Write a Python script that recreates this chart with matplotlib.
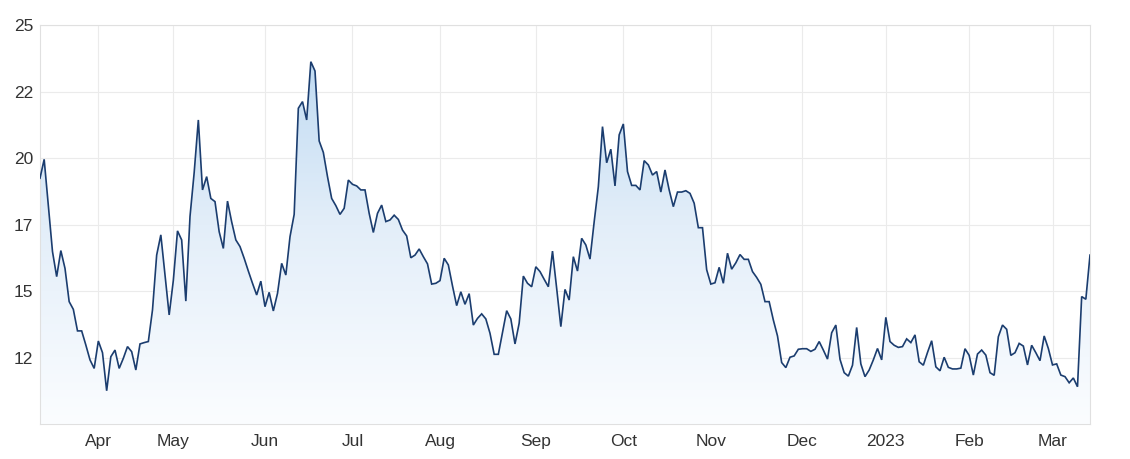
import numpy as np
import matplotlib
matplotlib.use('Agg')
import matplotlib.pyplot as plt
from matplotlib.patches import PathPatch
from matplotlib.colors import LinearSegmentedColormap

# ── data (one value per trading day, mid-Mar 2022 → mid-Mar 2023) ──────────
close = [
    19.24, 19.95, 18.2, 16.48, 15.54, 16.52, 15.85, 14.6, 14.31, 13.5,
    13.5, 12.97, 12.41, 12.09,                                           # Mar
    13.12, 12.68, 11.25, 12.53, 12.78, 12.09, 12.47, 12.91, 12.72, 12.03,
    13.01, 13.06, 13.1, 14.29, 16.35, 17.11, 15.6, 14.1,                 # Apr
    15.4, 17.26, 16.92, 14.62, 17.8, 19.45, 21.43, 18.8, 19.3, 18.48,
    18.36, 17.23, 16.6, 18.38, 17.6, 16.92, 16.67, 16.23, 15.75, 15.29,
    14.85, 15.37,                                                        # May
    14.41, 14.95, 14.25, 14.91, 16.04, 15.6, 17.04, 17.88, 21.87, 22.12,
    21.43, 23.62, 23.27, 20.64, 20.21, 19.3, 18.48, 18.21, 17.88, 18.11,
    19.17,                                                               # Jun
    19.01, 18.95, 18.8, 18.8, 17.92, 17.2, 17.92, 18.23, 17.61, 17.67,
    17.85, 17.69, 17.29, 17.07, 16.25, 16.35, 16.58, 16.29, 16.02, 15.26,
    15.29,                                                               # Jul
    15.39, 16.23, 15.98, 15.19, 14.45, 14.97, 14.5, 14.9, 13.72, 13.97,
    14.14, 13.95, 13.41, 12.62, 12.62, 13.43, 14.26, 13.95, 13.01, 13.79,
    15.56, 15.29, 15.16,                                                 # Aug
    15.91, 15.73, 15.44, 15.16, 16.5, 15.1, 13.66, 15.06, 14.66, 16.29,
    15.75, 16.98, 16.73, 16.2, 17.6, 18.92, 21.18, 19.82, 20.33, 18.95,
    20.87,                                                               # Sep
    21.28, 19.49, 18.97, 18.97, 18.8, 19.9, 19.74, 19.36, 19.49, 18.72,
    19.55, 18.8, 18.17, 18.72, 18.72, 18.77, 18.67, 18.3, 17.38, 17.38,
    15.8,                                                                # Oct
    15.26, 15.31, 15.89, 15.29, 16.42, 15.82, 16.06, 16.37, 16.19, 16.19,
    15.73, 15.51, 15.25, 14.6, 14.6, 13.91, 13.31, 12.31, 12.12, 12.51,
    12.56, 12.81,                                                        # Nov
    12.83, 12.83, 12.73, 12.81, 13.1, 12.78, 12.44, 13.43, 13.72, 12.43,
    11.93, 11.8, 12.21, 13.63, 12.26, 11.78, 12.03, 12.41, 12.84, 12.41, # Dec
    14.01, 13.1, 12.96, 12.88, 12.91, 13.2, 13.06, 13.35, 12.34, 12.21,
    12.69, 13.13, 12.15, 12.0, 12.51, 12.13, 12.07, 12.07, 12.1, 12.83,  # Jan
    12.58, 11.84, 12.63, 12.78, 12.59, 11.93, 11.83, 13.28, 13.72, 13.56,
    12.58, 12.68, 13.03, 12.93, 12.22, 12.96, 12.68, 12.38, 13.31, 12.84, # Feb
    12.22, 12.26, 11.84, 11.78, 11.55, 11.73, 11.4, 14.79, 14.69, 16.35,  # Mar
]

month_labels = ['Apr', 'May', 'Jun', 'Jul', 'Aug', 'Sep', 'Oct', 'Nov', 'Dec', '2023', 'Feb', 'Mar']
month_start = [14, 32, 54, 75, 96, 119, 140, 161, 183, 203, 223, 243]

y_ticks = [12.5, 15, 17.5, 20, 22.5, 25]
y_labels = ['12', '15', '17', '20', '22', '25']

# ── style ──────────────────────────────────────────────────────────────────
plt.rcParams['font.family'] = ['Liberation Sans', 'DejaVu Sans']
LINE = '#1b3d6f'
GRID = '#ebebeb'
TEXT = '#333333'

x = np.arange(len(close))
y = np.array(close)
y_min, y_max = 10, 25

fig = plt.figure(figsize=(11.3, 4.59), dpi=100)
ax = fig.add_axes([40 / 1130, 1 - 424 / 459, 1050 / 1130, 399 / 459])

# gradient fill clipped to the area under the line
poly = ax.fill_between(x, y, y_min, facecolor='none', edgecolor='none')
clip = PathPatch(poly.get_paths()[0], transform=ax.transData,
                 facecolor='none', edgecolor='none')
ax.add_patch(clip)
cmap = LinearSegmentedColormap.from_list('fade', ['#fbfdff', '#e3eef9', '#b9d7f1'])
grad = np.linspace(0, 1, 256).reshape(-1, 1)
im = ax.imshow(grad, cmap=cmap, aspect='auto', origin='lower',
               extent=[x[0], x[-1], y_min, y_max], zorder=1)
im.set_clip_path(clip)

ax.plot(x, y, color=LINE, lw=1.2, zorder=3, solid_joinstyle='miter')

ax.set_xlim(x[0], x[-1])
ax.set_ylim(y_min, y_max)

ax.set_yticks(y_ticks)
ax.set_yticklabels(y_labels)
ax.set_xticks(month_start)
ax.set_xticklabels(month_labels)
ax.tick_params(axis='both', length=0, labelsize=12.5, colors=TEXT)
ax.tick_params(axis='y', pad=5)
ax.tick_params(axis='x', pad=7)

ax.grid(True, color=GRID, lw=0.8, zorder=0)
ax.set_axisbelow(True)
for side, sp in ax.spines.items():
    sp.set_color('#e0e0e0')
    sp.set_linewidth(0.8)

fig.savefig('out.png', dpi=100)
